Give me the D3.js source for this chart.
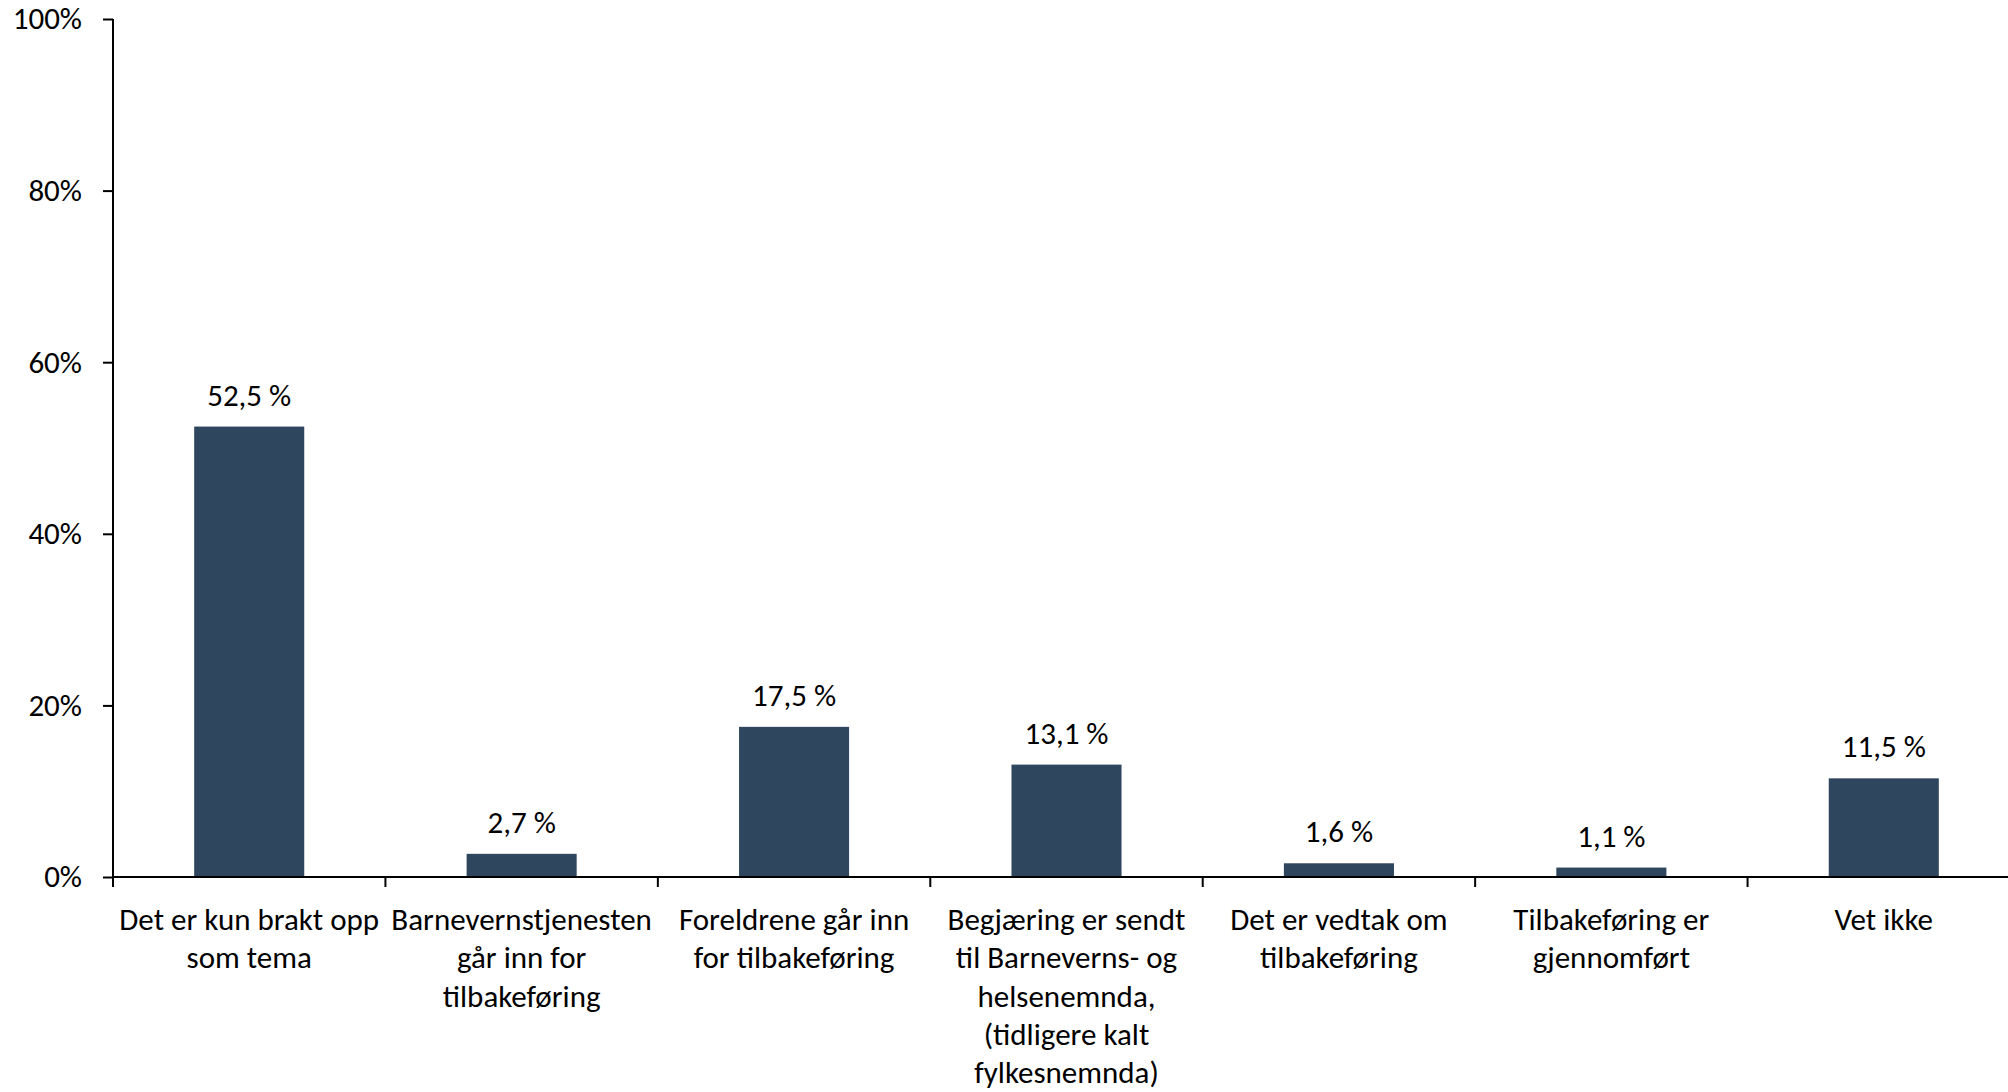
<!DOCTYPE html>
<html>
<head>
<meta charset="utf-8">
<script src="https://cdn.jsdelivr.net/npm/d3@7"></script>
<style>
  html, body { margin: 0; padding: 0; background: #fff; }
  svg { display: block; }
  text { font-family: Carlito, Lato, "Open Sans", sans-serif; fill: #000; }
</style>
</head>
<body>
<svg id="chart" width="2008" height="1092"></svg>
<script>
const categories = [
  ["Det er kun brakt opp", "som tema"],
  ["Barnevernstjenesten", "går inn for", "tilbakeføring"],
  ["Foreldrene går inn", "for tilbakeføring"],
  ["Begjæring er sendt", "til Barneverns- og", "helsenemnda,", "(tidligere kalt", "fylkesnemnda)"],
  ["Det er vedtak om", "tilbakeføring"],
  ["Tilbakeføring er", "gjennomført"],
  ["Vet ikke"]
];
const values = [52.5, 2.7, 17.5, 13.1, 1.6, 1.1, 11.5];
const yTicks = [0, 20, 40, 60, 80, 100];
const valueLabels = ["52,5 %", "2,7 %", "17,5 %", "13,1 %", "1,6 %", "1,1 %", "11,5 %"];

const svg = d3.select("#chart");
const fontSize = 31;
const fontFam = "Carlito, Lato, 'Open Sans', sans-serif";
const x = d3.scaleBand().domain(d3.range(categories.length)).range([113, 2020]).paddingInner(0.596).paddingOuter(0.298);
const y = d3.scaleLinear().domain([0, 100]).range([877, 19]);
const barColor = "#2e475f";

// bars
svg.append("g").selectAll("rect").data(values).join("rect")
  .attr("x", (d, i) => x(i))
  .attr("y", d => y(d))
  .attr("width", x.bandwidth())
  .attr("height", d => y(0) - y(d))
  .attr("fill", barColor);

// value labels
svg.append("g").selectAll("text").data(values).join("text")
  .attr("x", (d, i) => x(i) + x.bandwidth() / 2)
  .attr("y", d => y(d) - 21)
  .attr("text-anchor", "middle")
  .attr("font-size", fontSize)
  .text((d, i) => valueLabels[i]);

// y axis
const yAxis = d3.axisLeft(y).tickValues(yTicks).tickFormat(d => d + "%").tickSize(10).tickPadding(21);
const gy = svg.append("g").attr("transform", "translate(113,0)").call(yAxis);
gy.select(".domain").attr("stroke", "#000").attr("stroke-width", 2).attr("d", `M0,${y(100)}V${y(0)}`);
gy.selectAll(".tick line").attr("stroke", "#000").attr("stroke-width", 2);
gy.selectAll(".tick text").attr("font-size", fontSize).attr("font-family", fontFam).attr("fill", "#000");

// x axis line + ticks at band boundaries
const step = x.step();
const boundaries = d3.range(categories.length + 1).map(i => 113 + i * step);
svg.append("line").attr("x1", 113).attr("x2", 2020).attr("y1", y(0)).attr("y2", y(0))
  .attr("stroke", "#000").attr("stroke-width", 2);
svg.append("g").selectAll("line").data(boundaries).join("line")
  .attr("x1", d => d).attr("x2", d => d).attr("y1", y(0)).attr("y2", y(0) + 10)
  .attr("stroke", "#000").attr("stroke-width", 2);

// category labels
const lab = svg.append("g").selectAll("text").data(categories).join("text")
  .attr("x", (d, i) => x(i) + x.bandwidth() / 2)
  .attr("y", 919)
  .attr("text-anchor", "middle")
  .attr("font-size", fontSize);
lab.each(function(lines, i) {
  const t = d3.select(this);
  lines.forEach((ln, j) => {
    t.append("tspan")
      .attr("x", x(i) + x.bandwidth() / 2)
      .attr("y", 919 + j * 38.4)
      .attr("dy", "0.35em")
      .text(ln);
  });
});
</script>
</body>
</html>
